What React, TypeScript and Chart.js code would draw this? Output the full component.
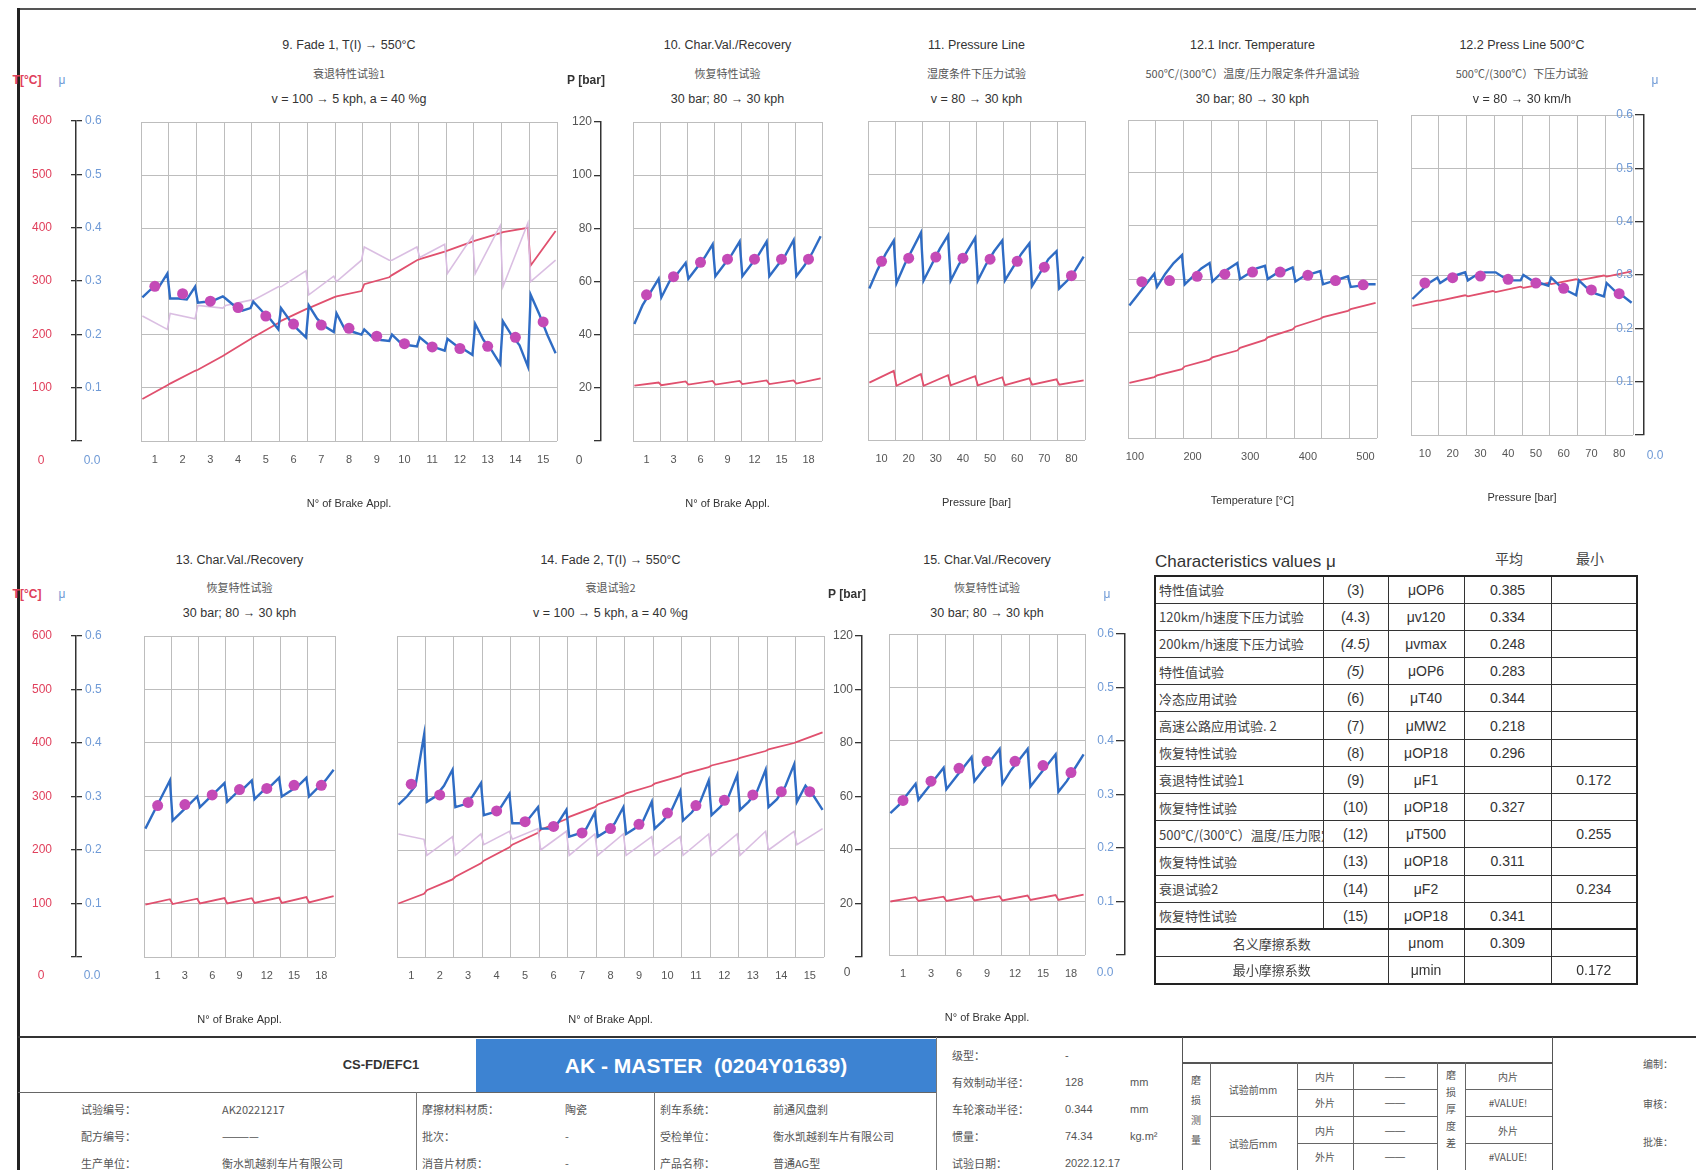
import React, { useEffect, useRef } from 'react';
import { Chart, registerables } from 'chart.js';

Chart.register(...registerables);
Chart.defaults.font.family = '"Liberation Sans", Arial, sans-serif';

// ================= DATA =================
// Panel 9 – Fade 1
const p9Cats = ['1', '2', '3', '4', '5', '6', '7', '8', '9', '10', '11', '12', '13', '14', '15'];
const p9Mu = [
  [0.27, 0.285, 0.29, 0.315], [0.268, 0.268, 0.266, 0.29], [0.26, 0.262, 0.265, 0.272],
  [0.268, 0.255, 0.245, 0.25], [0.262, 0.245, 0.23, 0.21], [0.25, 0.228, 0.21, 0.195],
  [0.255, 0.23, 0.215, 0.205], [0.24, 0.21, 0.205, 0.2], [0.21, 0.195, 0.19, 0.188],
  [0.2, 0.185, 0.18, 0.178], [0.195, 0.182, 0.175, 0.17], [0.192, 0.18, 0.172, 0.162],
  [0.22, 0.19, 0.17, 0.145], [0.225, 0.2, 0.18, 0.14], [0.275, 0.24, 0.2, 0.165],
];
const p9MuAvg = [0.291, 0.277, 0.263, 0.251, 0.235, 0.22, 0.218, 0.212, 0.197, 0.183, 0.177, 0.174, 0.178, 0.195, 0.224];
const p9Temp = [
  [79, 105], [108, 132], [134, 160], [163, 192], [195, 222], [226, 248], [250, 270], [272, 282],
  [295, 308], [312, 340], [342, 356], [358, 375], [377, 391], [393, 401], [330, 395],
];
const p9Press = [
  [47, 42], [48, 46], [51, 50], [51, 53], [53, 58], [58, 64], [55, 62], [60, 68],
  [73, 68], [68, 73], [69, 74], [63, 77], [63, 81], [58, 82], [60, 68],
];

// Panel 10 – Char.Val./Recovery
const p10Cats = ['1', '3', '6', '9', '12', '15', '18'];
const p10Mu = [
  [0.22, 0.255, 0.28, 0.305], [0.27, 0.3, 0.315, 0.335], [0.305, 0.325, 0.345, 0.37],
  [0.31, 0.33, 0.35, 0.375], [0.31, 0.33, 0.35, 0.375], [0.31, 0.33, 0.35, 0.378], [0.31, 0.33, 0.355, 0.385],
];
const p10MuAvg = [0.275, 0.309, 0.336, 0.342, 0.342, 0.342, 0.342];
const p10Temp = [[104, 110], [105, 112], [106, 113], [106, 113], [107, 114], [107, 114], [108, 118]];

// Panel 11 – Pressure Line
const p11Cats = ['10', '20', '30', '40', '50', '60', '70', '80'];
const p11Mu = [
  [0.285, 0.32, 0.35, 0.375], [0.295, 0.33, 0.36, 0.39], [0.3, 0.33, 0.36, 0.385], [0.3, 0.33, 0.355, 0.38],
  [0.3, 0.33, 0.355, 0.375], [0.3, 0.325, 0.35, 0.37], [0.29, 0.315, 0.34, 0.355], [0.285, 0.3, 0.32, 0.345],
];
const p11MuAvg = [0.336, 0.342, 0.344, 0.342, 0.34, 0.336, 0.325, 0.309];
const p11Temp = [[108, 130], [102, 124], [102, 122], [103, 120], [103, 118], [103, 116], [104, 114], [104, 112]];

// Panel 12.1 – Incr. Temperature
const p121TempTicks = [100, 200, 300, 400, 500];
const p121AxisStart = 88;
const p121AxisStep = 48;
const p121Mu = [
  [0.25, 0.27, 0.29, 0.31], [0.285, 0.31, 0.33, 0.345], [0.29, 0.305, 0.32, 0.33],
  [0.295, 0.31, 0.32, 0.33], [0.3, 0.31, 0.32, 0.325], [0.3, 0.31, 0.315, 0.322],
  [0.295, 0.305, 0.31, 0.315], [0.29, 0.295, 0.3, 0.305], [0.285, 0.287, 0.29, 0.29],
];
const p121MuAvg = [0.295, 0.297, 0.305, 0.309, 0.313, 0.313, 0.307, 0.297, 0.289];
const p121Temp = [[104, 115], [118, 130], [135, 148], [152, 165], [170, 185], [190, 205], [210, 225], [228, 240], [243, 255]];

// Panel 12.2 – Press Line 500°C
const p122Cats = ['10', '20', '30', '40', '50', '60', '70', '80'];
const p122Mu = [
  [0.255, 0.27, 0.285, 0.295], [0.285, 0.295, 0.3, 0.305], [0.29, 0.3, 0.305, 0.305], [0.305, 0.295, 0.29, 0.29],
  [0.3, 0.29, 0.285, 0.28], [0.295, 0.28, 0.27, 0.262], [0.29, 0.275, 0.265, 0.26], [0.285, 0.27, 0.26, 0.248],
];
const p122MuAvg = [0.285, 0.295, 0.298, 0.292, 0.285, 0.275, 0.272, 0.265];
const p122Temp = [[242, 252], [252, 262], [260, 270], [268, 278], [276, 285], [283, 292], [290, 299], [297, 307]];

// Panel 13 – Char.Val./Recovery
const p13Cats = ['1', '3', '6', '9', '12', '15', '18'];
const p13Mu = [
  [0.24, 0.27, 0.3, 0.33], [0.255, 0.27, 0.285, 0.3], [0.28, 0.295, 0.31, 0.325], [0.29, 0.305, 0.315, 0.33],
  [0.295, 0.31, 0.32, 0.335], [0.3, 0.31, 0.32, 0.335], [0.3, 0.315, 0.33, 0.35],
];
const p13MuAvg = [0.283, 0.285, 0.303, 0.313, 0.315, 0.321, 0.321];
const p13Temp = [[98, 108], [99, 109], [100, 110], [100, 110], [101, 111], [101, 112], [102, 114]];

// Panel 14 – Fade 2
const p14Cats = ['1', '2', '3', '4', '5', '6', '7', '8', '9', '10', '11', '12', '13', '14', '15'];
const p14Mu = [
  [0.285, 0.3, 0.32, 0.415], [0.29, 0.3, 0.32, 0.35], [0.28, 0.285, 0.3, 0.325], [0.265, 0.27, 0.28, 0.305],
  [0.25, 0.25, 0.26, 0.28], [0.24, 0.24, 0.25, 0.275], [0.225, 0.23, 0.24, 0.27], [0.225, 0.235, 0.25, 0.28],
  [0.23, 0.24, 0.255, 0.29], [0.24, 0.255, 0.275, 0.31], [0.255, 0.27, 0.29, 0.33], [0.265, 0.28, 0.3, 0.34],
  [0.275, 0.29, 0.31, 0.35], [0.28, 0.295, 0.32, 0.36], [0.29, 0.32, 0.3, 0.275],
];
const p14MuAvg = [0.323, 0.303, 0.289, 0.273, 0.253, 0.244, 0.232, 0.24, 0.248, 0.269, 0.283, 0.293, 0.303, 0.309, 0.309];
const p14Temp = [
  [100, 118], [125, 145], [150, 175], [180, 205], [210, 232], [238, 258], [262, 280], [285, 302],
  [306, 320], [324, 338], [342, 355], [358, 370], [372, 385], [388, 400], [402, 420],
];
const p14Press = [
  [46, 44], [38, 45], [38, 46], [42, 47], [44, 48], [40, 47], [38, 46], [38, 46],
  [38, 45], [38, 45], [38, 46], [38, 46], [38, 47], [40, 47], [42, 48],
];

// Panel 15 – Char.Val./Recovery
const p15Cats = ['1', '3', '6', '9', '12', '15', '18'];
const p15Mu = [
  [0.265, 0.28, 0.3, 0.32], [0.29, 0.31, 0.33, 0.35], [0.31, 0.33, 0.35, 0.37], [0.325, 0.345, 0.365, 0.385],
  [0.32, 0.345, 0.365, 0.385], [0.315, 0.335, 0.355, 0.375], [0.305, 0.325, 0.35, 0.375],
];
const p15MuAvg = [0.289, 0.325, 0.349, 0.362, 0.362, 0.354, 0.341];
const p15Temp = [[100, 108], [101, 109], [101, 110], [102, 110], [102, 111], [103, 112], [103, 113]];

// Axis ticks
const tempTicks = [0, 100, 200, 300, 400, 500, 600];
const muTicks = [0, 0.1, 0.2, 0.3, 0.4, 0.5, 0.6];
const pressTicks = [0, 20, 40, 60, 80, 100, 120];

// Characteristics table
const tblNames = ['特性值试验', '120km/h速度下压力试验', '200km/h速度下压力试验', '特性值试验', '冷态应用试验', '高速公路应用试验. 2', '恢复特性试验', '衰退特性试验1', '恢复特性试验', '500℃/(300℃）温度/压力限定条件升温试验', '恢复特性试验', '衰退试验2', '恢复特性试验'];
const tblCodes = ['(3)', '(4.3)', '(4.5)', '(5)', '(6)', '(7)', '(8)', '(9)', '(10)', '(12)', '(13)', '(14)', '(15)'];
const tblItalic = [false, false, true, true, false, false, false, false, false, false, false, false, false];
const tblSym = ['μOP6', 'μv120', 'μvmax', 'μOP6', 'μT40', 'μMW2', 'μOP18', 'μF1', 'μOP18', 'μT500', 'μOP18', 'μF2', 'μOP18'];
const tblAvg = ['0.385', '0.334', '0.248', '0.283', '0.344', '0.218', '0.296', '', '0.327', '', '0.311', '', '0.341'];
const tblMin = ['', '', '', '', '', '', '', '0.172', '', '0.255', '', '0.234', ''];
const tblSummary = [
  ['名义摩擦系数', 'μnom', '0.309', ''],
  ['最小摩擦系数', 'μmin', '', '0.172'],
];

// ================= STYLE =================
const BLUE = '#2f6cc4';
const RED = '#e0506e';
const LAV = 'rgba(216,186,224,0.95)';
const DOT = '#c44ab6';
const GRID = '#bdbdbd';
const AXIS = '#333';
const T_COL = '#e0405c';
const MU_COL = '#6f9ad6';
const CJK = '"Noto Sans CJK SC", "Liberation Sans", sans-serif';

const PAD_L = 14, PAD_R = 14, PAD_T = 10, PAD_B = 4, X_H = 70;
const AX_PAD = 32;
const MU_FRAC = [0.05, 0.35, 0.65, 0.95];
const PAIR_FRAC = [0.05, 0.95];

type Pt = { x: number; y: number };
function stopPoints(samples: number[][]): Pt[] {
  const pts: Pt[] = [];
  samples.forEach((s, k) => {
    const frac = s.length === 4 ? MU_FRAC : PAIR_FRAC;
    s.forEach((v, j) => pts.push({ x: k + frac[j], y: v }));
  });
  return pts;
}
const avgPoints = (avg: number[]): Pt[] => avg.map((v, k) => ({ x: k + 0.5, y: v }));

interface PanelSpec {
  left: number; top: number; width: number; height: number;
  nCols: number; tickPos: number[]; tickLabels: string[];
  mu: number[][]; muAvg: number[]; temp: number[][]; press?: number[][];
  xTitle: string;
}

function catPanel(cats: string[]) {
  return { nCols: cats.length, tickPos: cats.map((_, i) => i + 0.5), tickLabels: cats };
}

const panels: PanelSpec[] = [
  { left: 141, top: 122, width: 416, height: 319, ...catPanel(p9Cats), mu: p9Mu, muAvg: p9MuAvg, temp: p9Temp, press: p9Press, xTitle: 'N° of Brake Appl.' },
  { left: 633, top: 122, width: 189, height: 319, ...catPanel(p10Cats), mu: p10Mu, muAvg: p10MuAvg, temp: p10Temp, xTitle: 'N° of Brake Appl.' },
  { left: 868, top: 121, width: 217, height: 319, ...catPanel(p11Cats), mu: p11Mu, muAvg: p11MuAvg, temp: p11Temp, xTitle: 'Pressure [bar]' },
  {
    left: 1128, top: 120, width: 249, height: 318, nCols: p121Mu.length,
    tickPos: p121TempTicks.map((t) => (t - p121AxisStart) / p121AxisStep), tickLabels: p121TempTicks.map(String),
    mu: p121Mu, muAvg: p121MuAvg, temp: p121Temp, xTitle: 'Temperature [°C]',
  },
  { left: 1411, top: 115, width: 222, height: 320, ...catPanel(p122Cats), mu: p122Mu, muAvg: p122MuAvg, temp: p122Temp, xTitle: 'Pressure [bar]' },
  { left: 144, top: 636, width: 191, height: 321, ...catPanel(p13Cats), mu: p13Mu, muAvg: p13MuAvg, temp: p13Temp, xTitle: 'N° of Brake Appl.' },
  { left: 397, top: 636, width: 427, height: 321, ...catPanel(p14Cats), mu: p14Mu, muAvg: p14MuAvg, temp: p14Temp, press: p14Press, xTitle: 'N° of Brake Appl.' },
  { left: 889, top: 634, width: 196, height: 321, ...catPanel(p15Cats), mu: p15Mu, muAvg: p15MuAvg, temp: p15Temp, xTitle: 'N° of Brake Appl.' },
];

const panelTitles = [
  ['9. Fade 1, T(I) → 550°C', '衰退特性试验1', 'v = 100 → 5 kph, a = 40 %g'],
  ['10. Char.Val./Recovery', '恢复特性试验', '30 bar; 80 → 30 kph'],
  ['11. Pressure Line', '湿度条件下压力试验', 'v = 80 → 30 kph'],
  ['12.1 Incr. Temperature', '500℃/(300℃）温度/压力限定条件升温试验', '30 bar; 80 → 30 kph'],
  ['12.2  Press Line 500°C', '500℃/(300℃）下压力试验', 'v = 80 → 30 km/h'],
  ['13. Char.Val./Recovery', '恢复特性试验', '30 bar; 80 → 30 kph'],
  ['14. Fade 2, T(I) → 550°C', '衰退试验2', 'v = 100 → 5 kph, a = 40 %g'],
  ['15. Char.Val./Recovery', '恢复特性试验', '30 bar; 80 → 30 kph'],
];

function panelConfig(p: PanelSpec): any {
  const edges = Array.from({ length: p.nCols + 1 }, (_, i) => ({ value: i, label: '', edge: true }));
  const labs = p.tickPos.map((v, i) => ({ value: v, label: p.tickLabels[i], edge: false }));
  const all = [...edges, ...labs].sort((a, b) => a.value - b.value);
  const datasets: any[] = [
    { data: avgPoints(p.muAvg), yAxisID: 'y', showLine: false, pointRadius: 5.5, pointHoverRadius: 5.5, pointBackgroundColor: DOT, pointBorderWidth: 0, order: 0 },
    { data: stopPoints(p.mu), yAxisID: 'y', borderColor: BLUE, borderWidth: 2.4, pointRadius: 0, tension: 0, order: 1 },
  ];
  if (p.press) datasets.push({ data: stopPoints(p.press), yAxisID: 'yP', borderColor: LAV, borderWidth: 1.6, pointRadius: 0, tension: 0, order: 2 });
  datasets.push({ data: stopPoints(p.temp), yAxisID: 'yT', borderColor: RED, borderWidth: 1.8, pointRadius: 0, tension: 0, order: 3 });
  return {
    type: 'line',
    data: { datasets },
    options: {
      animation: false, responsive: false, events: [],
      layout: { padding: { left: PAD_L, right: PAD_R, top: PAD_T, bottom: PAD_B } },
      plugins: { legend: { display: false }, tooltip: { enabled: false } },
      scales: {
        x: {
          type: 'linear', min: 0, max: p.nCols,
          afterBuildTicks: (s: any) => { s.ticks = all.map((t) => ({ value: t.value })); },
          afterFit: (s: any) => { s.height = X_H; },
          ticks: { autoSkip: false, maxRotation: 0, padding: 12, color: '#555', font: { size: 11 }, callback: (_v: any, i: number) => (all[i] ? all[i].label : '') },
          grid: { drawTicks: false, lineWidth: 1, color: (c: any) => (all[c.index] && all[c.index].edge ? GRID : 'rgba(0,0,0,0)') },
          border: { display: false },
          title: { display: true, text: p.xTitle, color: '#333', font: { size: 11 }, padding: { top: 0, bottom: 0 } },
        },
        y: {
          type: 'linear', min: 0, max: 0.6,
          afterBuildTicks: (s: any) => { s.ticks = muTicks.map((v) => ({ value: v })); },
          afterFit: (s: any) => { s.width = 0; },
          ticks: { display: false },
          grid: { drawTicks: false, color: GRID, lineWidth: 1 },
          border: { display: false },
        },
        yT: { type: 'linear', display: false, min: 0, max: 600 },
        yP: { type: 'linear', display: false, min: 0, max: 120 },
      },
    },
  };
}

function yAxisOpts(position: string, min: number, max: number, ticks: number[], color: string, width: number, tickLen: number, pad: number, fmt: (v: number) => string, border: boolean) {
  return {
    type: 'linear', position, min, max,
    afterBuildTicks: (s: any) => { s.ticks = ticks.map((v) => ({ value: v })); },
    afterFit: (s: any) => { s.width = width; },
    ticks: { color, font: { size: 12 }, padding: pad, callback: (_v: any, i: number) => (ticks[i] === 0 ? '' : fmt(ticks[i])) },
    grid: { drawOnChartArea: false, drawTicks: true, tickLength: tickLen, color: AXIS, lineWidth: 1.3 },
    border: { display: border, color: AXIS, width: 1.5 },
  };
}

function axisOnlyOptions(scales: any): any {
  return {
    animation: false, responsive: false, events: [],
    layout: { padding: { top: AX_PAD, bottom: AX_PAD, left: 0, right: 0 } },
    plugins: { legend: { display: false }, tooltip: { enabled: false } },
    scales: { x: { display: false }, ...scales },
  };
}

function crossAxisConfig(): any {
  return {
    type: 'line', data: { datasets: [] },
    options: axisOnlyOptions({
      yT: yAxisOpts('left', 0, 600, tempTicks, T_COL, 64, 4, 19, (v) => String(v), false),
      yMu: yAxisOpts('right', 0, 0.6, muTicks, MU_COL, 36, 6, 3, (v) => v.toFixed(1), true),
    }),
  };
}

function leftAxisConfig(min: number, max: number, ticks: number[], color: string, fmt: (v: number) => string, tickLen: number): any {
  return {
    type: 'line', data: { datasets: [] },
    options: axisOnlyOptions({ y: yAxisOpts('left', min, max, ticks, color, 44, tickLen, 2, fmt, true) }),
  };
}

function ChartBox({ left, top, width, height, config }: { left: number; top: number; width: number; height: number; config: () => any }) {
  const ref = useRef<HTMLCanvasElement>(null);
  useEffect(() => {
    const chart = new Chart(ref.current as HTMLCanvasElement, config());
    return () => chart.destroy();
  }, []);
  return (
    <div style={{ position: 'absolute', left, top, width, height }}>
      <canvas ref={ref} width={width} height={height} style={{ width, height, display: 'block' }} />
    </div>
  );
}

function Panel({ p }: { p: PanelSpec }) {
  return (
    <ChartBox left={p.left - PAD_L} top={p.top - PAD_T} width={p.width + PAD_L + PAD_R} height={p.height + PAD_T + X_H + PAD_B} config={() => panelConfig(p)} />
  );
}

function CrossAxis({ x, top, h }: { x: number; top: number; h: number }) {
  return <ChartBox left={x - 64} top={top - AX_PAD} width={101} height={h + 2 * AX_PAD} config={crossAxisConfig} />;
}

function LeftAxis({ x, top, h, kind }: { x: number; top: number; h: number; kind: 'P' | 'mu' }) {
  const cfg = kind === 'P'
    ? () => leftAxisConfig(0, 120, pressTicks, '#555', (v) => String(v), 7)
    : () => leftAxisConfig(0, 0.6, muTicks, MU_COL, (v) => v.toFixed(1), 9);
  return <ChartBox left={x - 44} top={top - AX_PAD} width={46} height={h + 2 * AX_PAD} config={cfg} />;
}

type TxtProps = { x: number; y: number; children: any; size?: number; color?: string; weight?: number; align?: 'center' | 'left' | 'right'; family?: string; italic?: boolean };
function Txt({ x, y, children, size = 12, color = '#333', weight = 400, align = 'center', family, italic }: TxtProps) {
  const tx = align === 'center' ? '-50%' : align === 'left' ? '0' : '-100%';
  return (
    <div style={{ position: 'absolute', left: x, top: y, transform: `translate(${tx},-50%)`, fontSize: size, color, fontWeight: weight, whiteSpace: 'nowrap', lineHeight: 1.1, fontFamily: family, fontStyle: italic ? 'italic' : 'normal' }}>
      {children}
    </div>
  );
}
function Ln({ x, y, w, h, c = '#444' }: { x: number; y: number; w: number; h: number; c?: string }) {
  return <div style={{ position: 'absolute', left: x, top: y, width: w, height: h, background: c }} />;
}

function CharTable() {
  const cell: React.CSSProperties = { border: '1px solid #333', padding: '0 3px', overflow: 'hidden', whiteSpace: 'nowrap', textOverflow: 'clip' };
  return (
    <div style={{ position: 'absolute', left: 1154, top: 575 }}>
      <table style={{ borderCollapse: 'collapse', tableLayout: 'fixed', width: 482, border: '2px solid #222', fontSize: 14, color: '#333' }}>
        <colgroup>
          <col style={{ width: 168 }} /><col style={{ width: 65 }} /><col style={{ width: 76 }} /><col style={{ width: 87 }} /><col style={{ width: 86 }} />
        </colgroup>
        <tbody>
          {tblNames.map((n, i) => (
            <tr key={i} style={{ height: 27.2 }}>
              <td style={{ ...cell, fontFamily: CJK, fontSize: 13, color: '#444' }}>{n}</td>
              <td style={{ ...cell, textAlign: 'center', fontStyle: tblItalic[i] ? 'italic' : 'normal' }}>{tblCodes[i]}</td>
              <td style={{ ...cell, textAlign: 'center' }}>{tblSym[i]}</td>
              <td style={{ ...cell, textAlign: 'center' }}>{tblAvg[i]}</td>
              <td style={{ ...cell, textAlign: 'center' }}>{tblMin[i]}</td>
            </tr>
          ))}
          {tblSummary.map((r, i) => (
            <tr key={'s' + i} style={{ height: 27.2, borderTop: i === 0 ? '2px solid #222' : undefined }}>
              <td colSpan={2} style={{ ...cell, textAlign: 'center', fontFamily: CJK, fontSize: 13, color: '#444' }}>{r[0]}</td>
              <td style={{ ...cell, textAlign: 'center' }}>{r[1]}</td>
              <td style={{ ...cell, textAlign: 'center' }}>{r[2]}</td>
              <td style={{ ...cell, textAlign: 'center' }}>{r[3]}</td>
            </tr>
          ))}
        </tbody>
      </table>
    </div>
  );
}

const footLeft = [
  ['试验编号：', 'AK20221217', '摩擦材料材质：', '陶瓷', '刹车系统：', '前通风盘刹'],
  ['配方编号：', '————', '批次：', '-', '受检单位：', '衡水凯越刹车片有限公司'],
  ['生产单位：', '衡水凯越刹车片有限公司', '消音片材质：', '-', '产品名称：', '普通AG型'],
];
const footSpec = [
  ['级型：', '-', ''],
  ['有效制动半径：', '128', 'mm'],
  ['车轮滚动半径：', '0.344', 'mm'],
  ['惯量：', '74.34', 'kg.m²'],
  ['试验日期：', '2022.12.17', ''],
];

function Footer() {
  const fs = 11;
  const fc = '#555';
  const rowsY = [1109, 1136, 1163];
  const specY = [1055, 1082, 1109, 1136, 1163];
  const rbRowY = [1076, 1102, 1130, 1156];
  return (
    <>
      <Ln x={18} y={1036} w={1678} h={2} c="#333" />
      <Txt x={381} y={1065} size={13} weight={700} color="#333">CS-FD/EFC1</Txt>
      <div style={{ position: 'absolute', left: 476, top: 1039, width: 460, height: 53, background: '#3d83d2', color: '#fff', fontWeight: 700, fontSize: 21, display: 'flex', alignItems: 'center', justifyContent: 'center', whiteSpace: 'pre' }}>
        {'AK - MASTER  (0204Y01639)'}
      </div>
      <Ln x={18} y={1092} w={918} h={1} c="#666" />
      <Ln x={416} y={1092} w={1} h={78} c="#777" />
      <Ln x={654} y={1092} w={1} h={78} c="#777" />
      <Ln x={936} y={1037} w={1} h={133} c="#777" />
      {footLeft.map((r, i) => (
        <React.Fragment key={i}>
          <Txt x={81} y={rowsY[i]} align="left" size={fs} color={fc} family={CJK}>{r[0]}</Txt>
          <Txt x={222} y={rowsY[i]} align="left" size={fs} color={fc} family={CJK}>{r[1]}</Txt>
          <Txt x={422} y={rowsY[i]} align="left" size={fs} color={fc} family={CJK}>{r[2]}</Txt>
          <Txt x={565} y={rowsY[i]} align="left" size={fs} color={fc} family={CJK}>{r[3]}</Txt>
          <Txt x={660} y={rowsY[i]} align="left" size={fs} color={fc} family={CJK}>{r[4]}</Txt>
          <Txt x={773} y={rowsY[i]} align="left" size={fs} color={fc} family={CJK}>{r[5]}</Txt>
        </React.Fragment>
      ))}
      {footSpec.map((r, i) => (
        <React.Fragment key={'s' + i}>
          <Txt x={952} y={specY[i]} align="left" size={fs} color={fc} family={CJK}>{r[0]}</Txt>
          <Txt x={1065} y={specY[i]} align="left" size={fs} color={fc}>{r[1]}</Txt>
          <Txt x={1130} y={specY[i]} align="left" size={fs} color={fc}>{r[2]}</Txt>
        </React.Fragment>
      ))}
      {/* right block */}
      <Ln x={1182} y={1037} w={1} h={133} c="#555" />
      <Ln x={1552} y={1037} w={1} h={133} c="#555" />
      <Ln x={1182} y={1062} w={370} h={1.5} c="#555" />
      {[1210, 1297, 1353, 1437, 1465].map((x) => <Ln key={x} x={x} y={1062} w={1} h={108} c="#666" />)}
      <Ln x={1210} y={1116} w={87} h={1} c="#666" />
      {[1089, 1116, 1143].map((y) => <Ln key={'a' + y} x={1297} y={y} w={140} h={1} c="#666" />)}
      {[1089, 1116, 1143].map((y) => <Ln key={'b' + y} x={1465} y={y} w={87} h={1} c="#666" />)}
      <div style={{ position: 'absolute', left: 1188, top: 1070, width: 16, fontSize: 10, lineHeight: '20px', color: fc, fontFamily: CJK, textAlign: 'center' }}>磨<br />损<br />测<br />量</div>
      <div style={{ position: 'absolute', left: 1443, top: 1066, width: 16, fontSize: 10, lineHeight: '17px', color: fc, fontFamily: CJK, textAlign: 'center' }}>磨<br />损<br />厚<br />度<br />差</div>
      <Txt x={1253} y={1089} size={10} color={fc} family={CJK}>试验前mm</Txt>
      <Txt x={1253} y={1143} size={10} color={fc} family={CJK}>试验后mm</Txt>
      {['内片', '外片', '内片', '外片'].map((t, i) => <Txt key={'c' + i} x={1325} y={rbRowY[i]} size={10} color={fc} family={CJK}>{t}</Txt>)}
      {rbRowY.map((y, i) => <Txt key={'d' + i} x={1395} y={y} size={10} color={fc}>——</Txt>)}
      {['内片', '#VALUE!', '外片', '#VALUE!'].map((t, i) => <Txt key={'e' + i} x={1508} y={rbRowY[i]} size={10} color={fc} family={CJK}>{t}</Txt>)}
      <Txt x={1643} y={1063} align="left" size={10} color={fc} family={CJK}>编制：</Txt>
      <Txt x={1643} y={1103} align="left" size={10} color={fc} family={CJK}>审核：</Txt>
      <Txt x={1643} y={1141} align="left" size={10} color={fc} family={CJK}>批准：</Txt>
    </>
  );
}

export default function App() {
  const titleY = [[46, 73, 100], [561, 587, 614]];
  return (
    <div style={{ position: 'absolute', left: 0, top: 0, width: 1696, height: 1170, overflow: 'hidden', background: '#fff', fontFamily: '"Liberation Sans", Arial, sans-serif' }}>
      {/* frame */}
      <Ln x={18} y={8} w={1678} h={1.5} c="#555" />
      <Ln x={17} y={8} w={3} h={1162} c="#222" />

      {panels.map((p, i) => <Panel key={i} p={p} />)}
      {panels.map((p, i) => {
        const ys = titleY[i < 5 ? 0 : 1];
        const cx = p.left + p.width / 2;
        return (
          <React.Fragment key={'t' + i}>
            <Txt x={cx} y={ys[0]} size={12.5}>{panelTitles[i][0]}</Txt>
            <Txt x={cx} y={ys[1]} size={11} color="#555" family={CJK}>{panelTitles[i][1]}</Txt>
            <Txt x={cx} y={ys[2]} size={12.5}>{panelTitles[i][2]}</Txt>
          </React.Fragment>
        );
      })}

      {/* axes */}
      <CrossAxis x={75} top={121} h={320} />
      <CrossAxis x={75} top={636} h={321} />
      <LeftAxis x={601} top={122} h={319} kind="P" />
      <LeftAxis x={862} top={636} h={321} kind="P" />
      <LeftAxis x={1644} top={115} h={320} kind="mu" />
      <LeftAxis x={1125} top={634} h={321} kind="mu" />

      {/* axis unit labels and zero labels */}
      <Txt x={27} y={81} size={12} weight={700} color={T_COL}>T[°C]</Txt>
      <Txt x={62} y={81} size={12} color={MU_COL}>μ</Txt>
      <Txt x={27} y={595} size={12} weight={700} color={T_COL}>T[°C]</Txt>
      <Txt x={62} y={595} size={12} color={MU_COL}>μ</Txt>
      <Txt x={586} y={81} size={12} weight={700}>P [bar]</Txt>
      <Txt x={847} y={595} size={12} weight={700}>P [bar]</Txt>
      <Txt x={1655} y={81} size={12} color={MU_COL}>μ</Txt>
      <Txt x={1107} y={595} size={12} color={MU_COL}>μ</Txt>
      <Txt x={41} y={461} size={12} color={T_COL}>0</Txt>
      <Txt x={92} y={461} size={12} color={MU_COL}>0.0</Txt>
      <Txt x={41} y={976} size={12} color={T_COL}>0</Txt>
      <Txt x={92} y={976} size={12} color={MU_COL}>0.0</Txt>
      <Txt x={579} y={461} size={12} color="#555">0</Txt>
      <Txt x={847} y={973} size={12} color="#555">0</Txt>
      <Txt x={1655} y={456} size={12} color={MU_COL}>0.0</Txt>
      <Txt x={1105} y={973} size={12} color={MU_COL}>0.0</Txt>

      {/* characteristics table */}
      <Txt x={1155} y={562} align="left" size={17} color="#333">Characteristics values μ</Txt>
      <Txt x={1509} y={559} size={14} color="#444" family={CJK}>平均</Txt>
      <Txt x={1590} y={559} size={14} color="#444" family={CJK}>最小</Txt>
      <CharTable />

      <Footer />
    </div>
  );
}
